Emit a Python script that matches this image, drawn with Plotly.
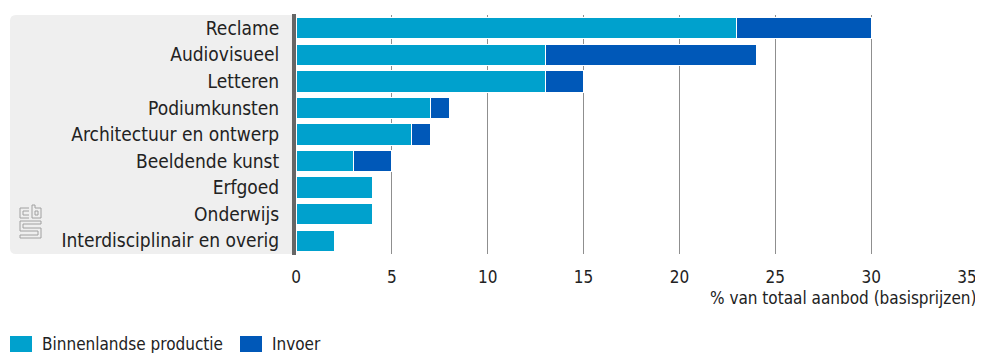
import plotly.graph_objects as go

categories = ["Reclame", "Audiovisueel", "Letteren", "Podiumkunsten",
              "Architectuur en ontwerp", "Beeldende kunst", "Erfgoed",
              "Onderwijs", "Interdisciplinair en overig"]
binnenlands = [23, 13, 13, 7, 6, 3, 4, 4, 2]
invoer = [7, 11, 2, 1, 1, 2, 0, 0, 0]
series_names = ["Binnenlandse productie", "Invoer"]
colors = ["#00A1CD", "#0058B8"]
x_ticks = [0, 5, 10, 15, 20, 25, 30, 35]
x_title = "% van totaal aanbod (basisprijzen)"

FONT = "Liberation Sans Narrow, DejaVu Sans Condensed, Roboto, sans-serif"
OFF = 8  # page body margin
W, H = 983 - OFF, 361 - 2 * OFF
# plot area in window pixels: x 296..967, y 15..254
L, T = 296 - OFF, 15 - OFF
R = (OFF + W) - 967
B = (OFF + H) - 254
PW, PH = W - L - R, H - T - B


def px(x):
    return (x - 296) / PW


def py(y):
    return (254 - y) / PH


fig = go.Figure()
for name, vals, col in zip(series_names, [binnenlands, invoer], colors):
    fig.add_trace(go.Bar(
        y=categories, x=vals, name=name, orientation="h",
        marker=dict(color=col, line=dict(color="white", width=1)),
        hoverinfo="x+y", showlegend=False,
    ))

shapes = []
# grey background panel behind labels
x0, x1, y0, y1, r = 10, 293, 15, 254, 6
path = (f"M {px(x0 + r)} {py(y0)} L {px(x1)} {py(y0)} L {px(x1)} {py(y1)} "
        f"L {px(x0 + r)} {py(y1)} Q {px(x0)} {py(y1)} {px(x0)} {py(y1 - r)} "
        f"L {px(x0)} {py(y0 + r)} Q {px(x0)} {py(y0)} {px(x0 + r)} {py(y0)} Z")
shapes.append(dict(type="path", xref="paper", yref="paper", path=path,
                   fillcolor="#EFEFEF", line=dict(width=0), layer="below"))
# axis line
shapes.append(dict(type="line", xref="paper", yref="paper",
                   x0=px(294), x1=px(294), y0=py(14), y1=py(255),
                   line=dict(color="#666666", width=4)))

# CBS logo (simplified line drawing)
lc = dict(color="#A0A0A0", width=1)
logo_lines = [
    # c
    [(20, 208), (29, 208)], [(20, 208), (20, 218)], [(20, 218), (29, 218)],
    [(23, 211), (29, 211)], [(23, 211), (23, 215)], [(23, 215), (29, 215)],
    # b
    [(32, 205), (32, 218)], [(32, 218), (41, 218)], [(41, 218), (41, 208)],
    [(41, 208), (35, 208)], [(35, 205), (35, 208)], [(32, 205), (35, 205)],
    [(35, 211), (38, 211)], [(38, 211), (38, 215)], [(38, 215), (35, 215)], [(35, 215), (35, 211)],
    # S
    [(20, 221), (41, 221)], [(20, 221), (20, 231)], [(20, 231), (38, 231)],
    [(38, 231), (38, 235)], [(38, 235), (20, 235)], [(20, 235), (20, 238)],
    [(20, 238), (41, 238)], [(41, 238), (41, 228)], [(41, 228), (23, 228)],
    [(23, 228), (23, 224)], [(23, 224), (41, 224)], [(41, 224), (41, 221)],
]
for (a, b) in logo_lines:
    shapes.append(dict(type="line", xref="paper", yref="paper",
                       x0=px(a[0]), y0=py(a[1]), x1=px(b[0]), y1=py(b[1]), line=lc))

# legend swatches
legend_pos = [(10, 32, 40), (240, 262, 270)]
annotations = []
for (sx0, sx1, tx), name, col in zip(legend_pos, series_names, colors):
    shapes.append(dict(type="rect", xref="paper", yref="paper",
                       x0=px(sx0), x1=px(sx1), y0=py(336), y1=py(352),
                       fillcolor=col, line=dict(width=0)))
    annotations.append(dict(xref="paper", yref="paper", x=px(tx), y=py(344),
                            xanchor="left", yanchor="middle", showarrow=False,
                            text=name, font=dict(family=FONT, size=17, color="#222222")))

annotations.append(dict(xref="paper", yref="paper", x=px(978), y=py(298),
                        xanchor="right", yanchor="middle", showarrow=False,
                        text=x_title, font=dict(family=FONT, size=17, color="#222222")))

fig.update_layout(
    width=W, height=H, margin=dict(l=L, r=R, t=T, b=B, pad=0),
    barmode="stack", bargap=0.2,
    paper_bgcolor="white", plot_bgcolor="white",
    font=dict(family=FONT, size=19, color="#222222"),
    xaxis=dict(range=[0, 35], tickvals=x_ticks, showgrid=True,
               gridcolor="#8F8F8F", gridwidth=1, zeroline=False,
               ticks="outside", ticklen=8, tickcolor="rgba(0,0,0,0)",
               fixedrange=True,
               tickfont=dict(family=FONT, size=17, color="#222222")),
    yaxis=dict(categoryorder="array", categoryarray=categories[::-1],
               showgrid=False, zeroline=False, ticks="outside", ticklen=12,
               tickcolor="rgba(0,0,0,0)",
               tickfont=dict(family=FONT, size=19, color="#222222")),
    shapes=shapes, annotations=annotations,
)

fig.write_html("out.html")
